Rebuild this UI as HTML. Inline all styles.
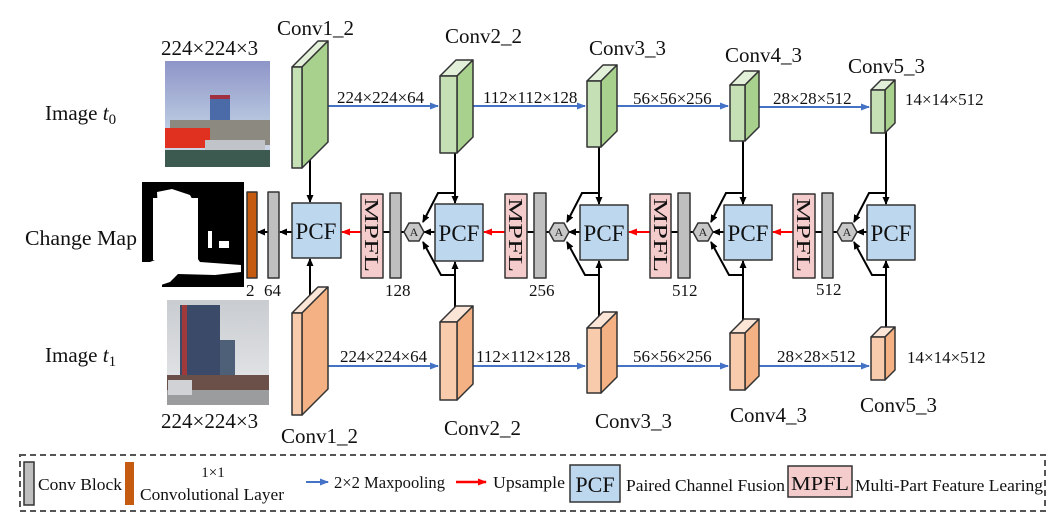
<!DOCTYPE html>
<html><head><meta charset="utf-8"><style>
html,body{margin:0;padding:0;background:#fff;}
svg{display:block;font-family:"Liberation Serif",serif;}
</style></head><body>
<svg width="1061" height="528" viewBox="0 0 1061 528" xmlns="http://www.w3.org/2000/svg">
<defs>
<marker id="ak" markerWidth="8" markerHeight="8" refX="7" refY="4" orient="auto" markerUnits="userSpaceOnUse"><path d="M0,0.5 L8,4 L0,7.5 z" fill="#000"/></marker>
<marker id="ab" markerWidth="9" markerHeight="8" refX="8" refY="4" orient="auto" markerUnits="userSpaceOnUse"><path d="M0,0.5 L9,4 L0,7.5 z" fill="#4472c4"/></marker>
<marker id="ar" markerWidth="9" markerHeight="8" refX="8" refY="4" orient="auto" markerUnits="userSpaceOnUse"><path d="M0,0.5 L9,4 L0,7.5 z" fill="#ff0000"/></marker>
<linearGradient id="sky" x1="0" y1="0" x2="0" y2="1"><stop offset="0" stop-color="#8e95c8"/><stop offset="0.6" stop-color="#b9c8e0"/><stop offset="1" stop-color="#d8dde8"/></linearGradient>
<linearGradient id="sky2" x1="0" y1="0" x2="0" y2="1"><stop offset="0" stop-color="#c9ccd0"/><stop offset="1" stop-color="#e8eaec"/></linearGradient>
</defs>

<!-- images -->
<g>
<rect x="165" y="61" width="105" height="106" fill="url(#sky)"/>
<rect x="210" y="95" width="20" height="45" fill="#4a6aa8"/>
<rect x="210" y="95" width="20" height="4" fill="#a03040"/>
<rect x="170" y="120" width="100" height="25" fill="#8c8a80"/>
<rect x="165" y="128" width="45" height="20" fill="#e03020"/>
<rect x="205" y="140" width="60" height="12" fill="#c0c4c8"/>
<rect x="165" y="150" width="105" height="17" fill="#3c5a50"/>
</g>
<g>
<rect x="167" y="300" width="102" height="105" fill="url(#sky2)"/>
<rect x="180" y="305" width="40" height="80" fill="#3a4a68"/>
<rect x="182" y="305" width="5" height="80" fill="#a03a3a"/>
<rect x="220" y="340" width="15" height="45" fill="#4d6078"/>
<rect x="167" y="375" width="102" height="15" fill="#6a5048"/>
<rect x="167" y="390" width="102" height="15" fill="#9a9c9e"/>
<rect x="168" y="380" width="24" height="15" fill="#d0d2d6"/>
</g>
<!-- change map -->
<rect x="142" y="182" width="102" height="105" fill="#000"/>
<path d="M157,192 L172,189 L190,195 L196,206 L196,250 L185,258 L160,258 L150,262 L146,285 L155,287 L170,282 L178,274 L215,275 L241,272 L241,265 L200,262 L195,255 L160,250 Z" fill="#fff"/>
<rect x="153" y="198" width="45" height="62" fill="#fff"/>
<rect x="142" y="262" width="20" height="25" fill="#fff"/>
<rect x="208" y="231" width="4" height="17" fill="#fff"/>
<rect x="219" y="241" width="10" height="7" fill="#fff"/>

<!-- text labels -->
<g font-size="21" fill="#111">
<text x="161" y="55">224×224×3</text>
<text x="161" y="428">224×224×3</text>
<text x="45" y="120">Image <tspan font-style="italic">t</tspan><tspan font-size="15" dy="4">0</tspan></text>
<text x="25" y="245" textLength="112" lengthAdjust="spacingAndGlyphs">Change Map</text>
<text x="45" y="362">Image <tspan font-style="italic">t</tspan><tspan font-size="15" dy="4">1</tspan></text>
<text x="277" y="35">Conv1_2</text>
<text x="445" y="43">Conv2_2</text>
<text x="589" y="55">Conv3_3</text>
<text x="725" y="62">Conv4_3</text>
<text x="848" y="73">Conv5_3</text>
<text x="281" y="443">Conv1_2</text>
<text x="444" y="435">Conv2_2</text>
<text x="595" y="428">Conv3_3</text>
<text x="730" y="422">Conv4_3</text>
<text x="860" y="412">Conv5_3</text>
</g>
<g font-size="17" fill="#111">
<text x="337" y="103">224×224×64</text>
<text x="483" y="103">112×112×128</text>
<text x="633" y="104">56×56×256</text>
<text x="773" y="104">28×28×512</text>
<text x="905" y="105">14×14×512</text>
<text x="340" y="362">224×224×64</text>
<text x="476" y="362">112×112×128</text>
<text x="633" y="362">56×56×256</text>
<text x="777" y="362">28×28×512</text>
<text x="907" y="363">14×14×512</text>
<text x="246" y="296">2</text>
<text x="264" y="296">64</text>
<text x="385" y="296">128</text>
<text x="529" y="296">256</text>
<text x="672" y="296">512</text>
<text x="816" y="295">512</text>
</g>

<!-- blue arrows -->
<g stroke="#4472c4" stroke-width="2" fill="none">
<line x1="328" y1="106" x2="438" y2="106" marker-end="url(#ab)"/>
<line x1="473" y1="106" x2="585" y2="106" marker-end="url(#ab)"/>
<line x1="617" y1="106" x2="728" y2="106" marker-end="url(#ab)"/>
<line x1="759" y1="107" x2="869" y2="107" marker-end="url(#ab)"/>
<line x1="328" y1="366" x2="438" y2="366" marker-end="url(#ab)"/>
<line x1="473" y1="366" x2="585" y2="366" marker-end="url(#ab)"/>
<line x1="617" y1="366" x2="728" y2="366" marker-end="url(#ab)"/>
<line x1="759" y1="366" x2="869" y2="366" marker-end="url(#ab)"/>
</g>

<!-- black arrows -->
<g stroke="#000" stroke-width="2" fill="none">
<line x1="310" y1="160" x2="310" y2="202" marker-end="url(#ak)"/>
<line x1="310" y1="305" x2="310" y2="259" marker-end="url(#ak)"/>
<line x1="455" y1="153" x2="455" y2="203" marker-end="url(#ak)"/>
<line x1="455" y1="318" x2="455" y2="262" marker-end="url(#ak)"/>
<line x1="599" y1="147" x2="599" y2="204" marker-end="url(#ak)"/>
<line x1="599" y1="320" x2="599" y2="261" marker-end="url(#ak)"/>
<line x1="743" y1="141" x2="743" y2="204" marker-end="url(#ak)"/>
<line x1="743" y1="323" x2="743" y2="261" marker-end="url(#ak)"/>
<line x1="886" y1="128" x2="886" y2="204" marker-end="url(#ak)"/>
<line x1="886" y1="330" x2="886" y2="261" marker-end="url(#ak)"/>
<polyline points="455,193 438,193 423,222" marker-end="url(#ak)"/>
<polyline points="455,275 441,275 423,242" marker-end="url(#ak)"/>
<polyline points="599,193 582,193 567,222" marker-end="url(#ak)"/>
<polyline points="599,275 585,275 567,242" marker-end="url(#ak)"/>
<polyline points="743,193 726,193 711,222" marker-end="url(#ak)"/>
<polyline points="743,275 729,275 711,242" marker-end="url(#ak)"/>
<polyline points="886,193 869,193 854,222" marker-end="url(#ak)"/>
<polyline points="886,275 872,275 854,242" marker-end="url(#ak)"/>
<line x1="435" y1="232" x2="424" y2="232" marker-end="url(#ak)"/>
<line x1="580" y1="232" x2="569" y2="232" marker-end="url(#ak)"/>
<line x1="724" y1="232" x2="713" y2="232" marker-end="url(#ak)"/>
<line x1="867" y1="232" x2="857" y2="232" marker-end="url(#ak)"/>
<line x1="383" y1="232" x2="404" y2="232"/>
<line x1="527" y1="232" x2="549" y2="232"/>
<line x1="671" y1="232" x2="693" y2="232"/>
<line x1="815" y1="232" x2="837" y2="232"/>
<line x1="292" y1="232" x2="280" y2="232" marker-end="url(#ak)"/>
<line x1="268" y1="232" x2="258" y2="232" marker-end="url(#ak)"/>
</g>
<g stroke="#ff0000" stroke-width="2" fill="none">
<line x1="361" y1="232" x2="342" y2="232" marker-end="url(#ar)"/>
<line x1="505" y1="232" x2="484" y2="232" marker-end="url(#ar)"/>
<line x1="650" y1="232" x2="629" y2="232" marker-end="url(#ar)"/>
<line x1="793" y1="232" x2="773" y2="232" marker-end="url(#ar)"/>
</g>

<g stroke="#333" stroke-width="1.5" stroke-linejoin="round">
<g><polygon points="292,67 318,41 328,41 302,67" fill="#e2f0d9"/><polygon points="302,67 328,41 328,142 302,168" fill="#a9d18e"/><rect x="292" y="67" width="10" height="101" fill="#c5e0b4"/></g>
<g><polygon points="440,76 456,60 473,60 457,76" fill="#e2f0d9"/><polygon points="457,76 473,60 473,137 457,153" fill="#a9d18e"/><rect x="440" y="76" width="17" height="77" fill="#c5e0b4"/></g>
<g><polygon points="587,81 603,65 617,65 601,81" fill="#e2f0d9"/><polygon points="601,81 617,65 617,131 601,147" fill="#a9d18e"/><rect x="587" y="81" width="14" height="66" fill="#c5e0b4"/></g>
<g><polygon points="730,85 744,71 759,71 745,85" fill="#e2f0d9"/><polygon points="745,85 759,71 759,127 745,141" fill="#a9d18e"/><rect x="730" y="85" width="15" height="56" fill="#c5e0b4"/></g>
<g><polygon points="871,90 881,80 895,80 885,90" fill="#e2f0d9"/><polygon points="885,90 895,80 895,123 885,133" fill="#a9d18e"/><rect x="871" y="90" width="14" height="43" fill="#c5e0b4"/></g>
<g><polygon points="292,313 318,287 328,287 302,313" fill="#fbe5d6"/><polygon points="302,313 328,287 328,389 302,415" fill="#f4b183"/><rect x="292" y="313" width="10" height="102" fill="#f8cbad"/></g>
<g><polygon points="440,322 456,306 473,306 457,322" fill="#fbe5d6"/><polygon points="457,322 473,306 473,384 457,400" fill="#f4b183"/><rect x="440" y="322" width="17" height="78" fill="#f8cbad"/></g>
<g><polygon points="587,328 603,312 617,312 601,328" fill="#fbe5d6"/><polygon points="601,328 617,312 617,377 601,393" fill="#f4b183"/><rect x="587" y="328" width="14" height="65" fill="#f8cbad"/></g>
<g><polygon points="730,333 744,319 759,319 745,333" fill="#fbe5d6"/><polygon points="745,333 759,319 759,376 745,390" fill="#f4b183"/><rect x="730" y="333" width="15" height="57" fill="#f8cbad"/></g>
<g><polygon points="871,337 881,327 895,327 885,337" fill="#fbe5d6"/><polygon points="885,337 895,327 895,370 885,380" fill="#f4b183"/><rect x="871" y="337" width="14" height="43" fill="#f8cbad"/></g>

<rect x="247" y="192" width="10" height="86" fill="#c55a11"/>
<rect x="268" y="192" width="11" height="86" fill="#bfbfbf"/>
<rect x="390" y="193" width="11" height="85" fill="#bfbfbf"/>
<rect x="534" y="193" width="12" height="85" fill="#bfbfbf"/>
<rect x="678" y="193" width="12" height="85" fill="#bfbfbf"/>
<rect x="822" y="193" width="11" height="85" fill="#bfbfbf"/>
<rect x="361" y="194" width="22" height="84" fill="#f4cccc"/>
<rect x="505" y="194" width="22" height="84" fill="#f4cccc"/>
<rect x="650" y="194" width="21" height="84" fill="#f4cccc"/>
<rect x="793" y="194" width="22" height="84" fill="#f4cccc"/>
<rect x="292" y="203" width="49" height="55" fill="#bdd7ee"/>
<rect x="435" y="204" width="48" height="57" fill="#bdd7ee"/>
<rect x="580" y="205" width="48" height="55" fill="#bdd7ee"/>
<rect x="724" y="205" width="48" height="55" fill="#bdd7ee"/>
<rect x="867" y="205" width="48" height="55" fill="#bdd7ee"/>
<polygon points="404,232 409,223 419,223 424,232 419,241 409,241" fill="#c8c8c8"/>
<polygon points="549,232 554,223 564,223 569,232 564,241 554,241" fill="#c8c8c8"/>
<polygon points="693,232 698,223 708,223 713,232 708,241 698,241" fill="#c8c8c8"/>
<polygon points="837,232 842,223 852,223 857,232 852,241 842,241" fill="#c8c8c8"/>
</g>
<g font-size="12" fill="#222" text-anchor="middle">
<text x="414" y="236">A</text><text x="559" y="236">A</text><text x="703" y="236">A</text><text x="847" y="236">A</text>
</g>
<g font-size="23" fill="#111" text-anchor="middle">
<text x="316" y="239">PCF</text><text x="459" y="241">PCF</text><text x="604" y="241">PCF</text><text x="748" y="241">PCF</text><text x="891" y="241">PCF</text>
</g>
<g font-size="20" fill="#111">
<text transform="translate(365,198) rotate(90)" textLength="74" lengthAdjust="spacingAndGlyphs">MPFL</text>
<text transform="translate(509,198) rotate(90)" textLength="74" lengthAdjust="spacingAndGlyphs">MPFL</text>
<text transform="translate(654,198) rotate(90)" textLength="74" lengthAdjust="spacingAndGlyphs">MPFL</text>
<text transform="translate(797,198) rotate(90)" textLength="74" lengthAdjust="spacingAndGlyphs">MPFL</text>
</g>

<!-- legend -->
<rect x="20" y="455" width="1025" height="56" fill="none" stroke="#555" stroke-width="2" stroke-dasharray="6,4"/>
<rect x="24" y="462" width="10" height="43" fill="#bfbfbf" stroke="#333" stroke-width="1.5"/>
<rect x="125" y="462" width="9" height="43" fill="#c55a11"/>
<line x1="306" y1="482" x2="328" y2="482" stroke="#4472c4" stroke-width="2" marker-end="url(#ab)"/>
<line x1="456" y1="482" x2="486" y2="482" stroke="#ff0000" stroke-width="2.5" marker-end="url(#ar)"/>
<rect x="570" y="465" width="50" height="37" fill="#bdd7ee" stroke="#333" stroke-width="1.5"/>
<rect x="788" y="466" width="64" height="31" fill="#f4cccc" stroke="#333" stroke-width="1.5"/>
<g font-size="17" fill="#111" lengthAdjust="spacingAndGlyphs">
<text x="38" y="490" textLength="84" lengthAdjust="spacingAndGlyphs">Conv Block</text>
<text x="213" y="477" text-anchor="middle" font-size="15">1×1</text>
<text x="140" y="500" textLength="144" lengthAdjust="spacingAndGlyphs">Convolutional Layer</text>
<text x="334" y="488" textLength="111" lengthAdjust="spacingAndGlyphs">2×2 Maxpooling</text>
<text x="493" y="488" textLength="72" lengthAdjust="spacingAndGlyphs">Upsample</text>
<text x="626" y="491" textLength="159" lengthAdjust="spacingAndGlyphs">Paired Channel Fusion</text>
<text x="855" y="491" textLength="188" lengthAdjust="spacingAndGlyphs">Multi-Part Feature Learing</text>
</g>
<text x="595" y="492" font-size="22" fill="#111" text-anchor="middle">PCF</text>
<text x="820" y="490" font-size="20" fill="#111" text-anchor="middle" textLength="58" lengthAdjust="spacingAndGlyphs">MPFL</text>
</svg>
</body></html>
